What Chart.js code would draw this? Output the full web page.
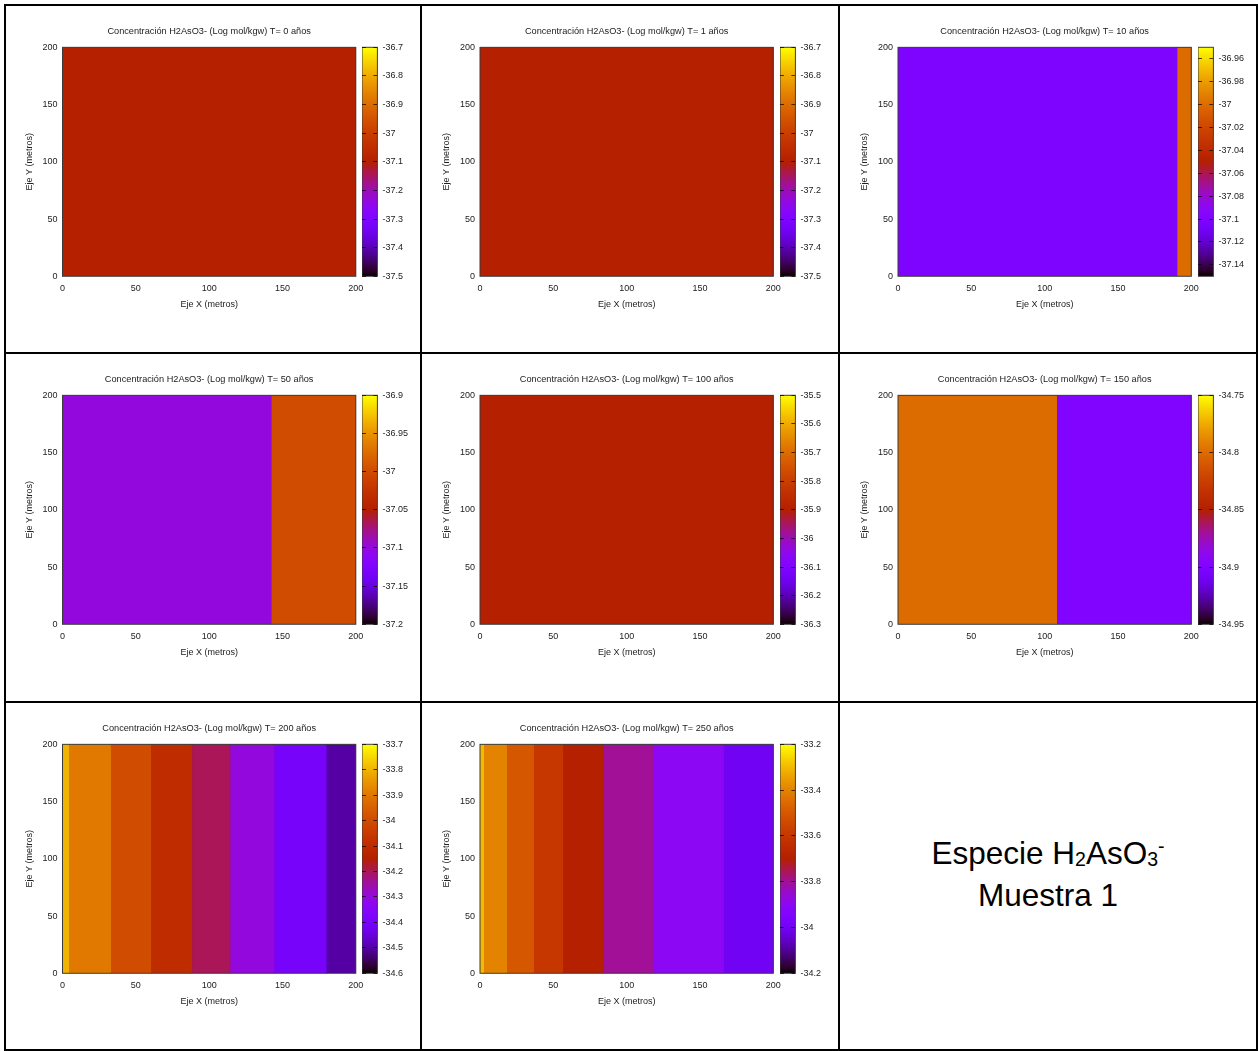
<!DOCTYPE html>
<html>
<head>
<meta charset="utf-8">
<script src="https://cdn.jsdelivr.net/npm/chart.js@4.4.1/dist/chart.umd.min.js"></script>
<style>
  html, body { margin: 0; padding: 0; background: #fff; }
  body { width: 1259px; height: 1051px; position: relative; overflow: hidden; }
  #frame {
    position: absolute; left: 4px; top: 4px; width: 1254px; height: 1047px;
    box-sizing: border-box; padding: 2px; background: #000;
    display: grid; grid-template-columns: 414px 416px 416px;
    grid-template-rows: 346px 347px 346px; gap: 2px;
  }
  .cell { position: relative; background: #fff; overflow: hidden; }
  .cell canvas { position: absolute; top: 0; }
  .txt {
    position: absolute; inset: 0; display: flex; flex-direction: column;
    align-items: center; justify-content: center; padding-bottom: 4px; box-sizing: border-box;
    font-family: 'Liberation Sans', Arial, sans-serif; font-size: 31.5px; color: #000;
  }
  .txt > div { height: 42px; line-height: 42px; white-space: nowrap; }
  .sub { font-size: 19.5px; line-height: 0; position: relative; top: 2px; }
  .sup { font-size: 19.5px; line-height: 0; position: relative; top: -11px; }
</style>
</head>
<body>
<div id="frame"></div>
<script>
// ---------------- DATA ----------------
const panelTimes = [0, 1, 10, 50, 100, 150, 200, 250];
const xTicks = [0, 50, 100, 150, 200];
const yTicks = [0, 50, 100, 150, 200];
const yExtent = [0, 200];

const bandEdgesT0 = [0, 200];
const bandValuesT0 = [-37.1];
const cbRangeT0 = [-37.5, -36.7];
const cbTicksT0 = [-37.5, -37.4, -37.3, -37.2, -37.1, -37.0, -36.9, -36.8, -36.7];

const bandEdgesT1 = [0, 200];
const bandValuesT1 = [-37.1];
const cbRangeT1 = [-37.5, -36.7];
const cbTicksT1 = [-37.5, -37.4, -37.3, -37.2, -37.1, -37.0, -36.9, -36.8, -36.7];

const bandEdgesT10 = [0, 190, 200];
const bandValuesT10 = [-37.1, -37.0];
const cbRangeT10 = [-37.15, -36.95];
const cbTicksT10 = [-37.14, -37.12, -37.10, -37.08, -37.06, -37.04, -37.02, -37.00, -36.98, -36.96];

const bandEdgesT50 = [0, 142, 200];
const bandValuesT50 = [-37.1, -37.0];
const cbRangeT50 = [-37.2, -36.9];
const cbTicksT50 = [-37.2, -37.15, -37.1, -37.05, -37.0, -36.95, -36.9];

const bandEdgesT100 = [0, 200];
const bandValuesT100 = [-35.9];
const cbRangeT100 = [-36.3, -35.5];
const cbTicksT100 = [-36.3, -36.2, -36.1, -36.0, -35.9, -35.8, -35.7, -35.6, -35.5];

const bandEdgesT150 = [0, 108, 200];
const bandValuesT150 = [-34.8, -34.9];
const cbRangeT150 = [-34.95, -34.75];
const cbTicksT150 = [-34.95, -34.9, -34.85, -34.8, -34.75];

const bandEdgesT200 = [0, 4, 32.5, 60, 88, 114, 144, 179.5, 200];
const bandValuesT200 = [-33.8, -33.9, -34.0, -34.1, -34.2, -34.3, -34.4, -34.5];
const cbRangeT200 = [-34.6, -33.7];
const cbTicksT200 = [-34.6, -34.5, -34.4, -34.3, -34.2, -34.1, -34.0, -33.9, -33.8, -33.7];

const bandEdgesT250 = [0, 2.3, 18, 36.4, 56.3, 84, 118, 166, 200];
const bandValuesT250 = [-33.3, -33.4, -33.5, -33.6, -33.7, -33.8, -33.9, -34.0];
const cbRangeT250 = [-34.2, -33.2];
const cbTicksT250 = [-34.2, -34.0, -33.8, -33.6, -33.4, -33.2];

const panels = [
  { t: panelTimes[0], edges: bandEdgesT0, values: bandValuesT0, range: cbRangeT0, ticks: cbTicksT0 },
  { t: panelTimes[1], edges: bandEdgesT1, values: bandValuesT1, range: cbRangeT1, ticks: cbTicksT1 },
  { t: panelTimes[2], edges: bandEdgesT10, values: bandValuesT10, range: cbRangeT10, ticks: cbTicksT10 },
  { t: panelTimes[3], edges: bandEdgesT50, values: bandValuesT50, range: cbRangeT50, ticks: cbTicksT50 },
  { t: panelTimes[4], edges: bandEdgesT100, values: bandValuesT100, range: cbRangeT100, ticks: cbTicksT100 },
  { t: panelTimes[5], edges: bandEdgesT150, values: bandValuesT150, range: cbRangeT150, ticks: cbTicksT150 },
  { t: panelTimes[6], edges: bandEdgesT200, values: bandValuesT200, range: cbRangeT200, ticks: cbTicksT200 },
  { t: panelTimes[7], edges: bandEdgesT250, values: bandValuesT250, range: cbRangeT250, ticks: cbTicksT250 }
];

// ---------------- STYLE / LAYOUT ----------------
const FONT = "'Liberation Sans', Arial, sans-serif";
const TXT = '#222';
Chart.defaults.font.family = FONT;
Chart.defaults.font.size = 9;
Chart.defaults.color = TXT;
Chart.defaults.animation = false;

const colW = [414, 416, 416];
const rowH = [346, 347, 346];
const plotLeftByCol = [56.5, 58, 58];
const PLOT_W = 293.3, PLOT_H = 229, PLOT_TOP = 41.3;
const CB_GAP = 6.6, CB_W = 15.4, CB_AXIS_W = 55;

// gnuplot default palette (rgbformulae 7,5,15)
function palette(t) {
  t = Math.max(0, Math.min(1, t));
  const r = Math.sqrt(t), g = t * t * t, b = Math.max(0, Math.sin(2 * Math.PI * t));
  return `rgb(${Math.round(r * 255)},${Math.round(g * 255)},${Math.round(b * 255)})`;
}
const fmt = v => String(+v.toFixed(4));

const borderPlugin = {
  id: 'frameBorder',
  afterDatasetsDraw(chart) {
    const a = chart.chartArea, c = chart.ctx;
    c.save();
    c.strokeStyle = '#3a3a3a';
    c.lineWidth = 1;
    c.strokeRect(a.left, a.top, a.width, a.height);
    c.restore();
  }
};

const frame = document.getElementById('frame');
for (let i = 0; i < 9; i++) {
  const row = Math.floor(i / 3), col = i % 3;
  const cell = document.createElement('div');
  cell.className = 'cell';
  frame.appendChild(cell);
  if (i === 8) {
    cell.innerHTML = '<div class="txt"><div>Especie H<span class="sub">2</span>AsO<span class="sub">3</span><span class="sup">-</span></div><div>Muestra 1</div></div>';
    continue;
  }
  const p = panels[i];
  const W = colW[col], H = rowH[row];
  const plotLeft = plotLeftByCol[col];
  const plotRight = plotLeft + PLOT_W;
  const yAxisW = 38.4, xAxisH = 34.1;

  // main heatmap chart
  const cv = document.createElement('canvas');
  cv.width = W; cv.height = H;
  cv.style.width = W + 'px'; cv.style.height = H + 'px'; cv.style.left = '0px';
  cell.appendChild(cv);

  const [vmin, vmax] = p.range;
  const datasets = p.values.map((v, k) => {
    const c = palette((v - vmin) / (vmax - vmin));
    return {
      data: [
        { x: p.edges[k], y: yExtent[0] }, { x: p.edges[k], y: yExtent[1] },
        { x: p.edges[k + 1], y: yExtent[1] }, { x: p.edges[k + 1], y: yExtent[0] }
      ],
      showLine: true, fill: 'origin', backgroundColor: c,
      borderColor: c, borderWidth: 1, pointRadius: 0, tension: 0
    };
  });

  new Chart(cv, {
    type: 'scatter',
    data: { datasets },
    plugins: [borderPlugin],
    options: {
      responsive: false,
      layout: { padding: { left: plotLeft - yAxisW, right: W - plotRight, top: 0, bottom: H - PLOT_TOP - PLOT_H - xAxisH } },
      plugins: {
        legend: { display: false },
        tooltip: { enabled: false },
        title: {
          display: true, fullSize: false,
          text: 'Concentración H2AsO3- (Log mol/kgw) T= ' + p.t + ' años',
          font: { size: 9.2, weight: 'normal' }, color: TXT,
          padding: { top: 20.4, bottom: 9.9 }
        }
      },
      scales: {
        x: {
          type: 'linear', min: 0, max: 200,
          afterBuildTicks: s => { s.ticks = xTicks.map(v => ({ value: v })); },
          afterFit: s => { s.height = xAxisH; },
          grid: { display: false, drawTicks: false },
          border: { display: false },
          ticks: { padding: 6.5, maxRotation: 0, color: TXT, font: { size: 9 } },
          title: { display: true, text: 'Eje X (metros)', padding: 0, color: TXT, font: { size: 9 } }
        },
        y: {
          type: 'linear', min: 0, max: 200,
          afterBuildTicks: s => { s.ticks = yTicks.map(v => ({ value: v })); },
          afterFit: s => { s.width = yAxisW; },
          grid: { display: false, drawTicks: false },
          border: { display: false },
          ticks: { padding: 5, color: TXT, font: { size: 9 } },
          title: { display: true, text: 'Eje Y (metros)', padding: 0, color: TXT, font: { size: 9 } }
        }
      }
    }
  });

  // colorbar chart
  const cb = document.createElement('canvas');
  const cbW = CB_W + CB_AXIS_W;
  cb.width = Math.ceil(cbW); cb.height = H;
  cb.style.width = Math.ceil(cbW) + 'px'; cb.style.height = H + 'px';
  cb.style.left = (plotRight + CB_GAP) + 'px';
  cell.appendChild(cb);

  new Chart(cb, {
    type: 'scatter',
    data: {
      datasets: [{
        data: [{ x: 0, y: vmax }, { x: 1, y: vmax }],
        showLine: true, fill: 'start', borderWidth: 0, pointRadius: 0,
        backgroundColor: ctx => {
          const a = ctx.chart.chartArea;
          if (!a) return 'rgba(0,0,0,0)';
          const g = ctx.chart.ctx.createLinearGradient(0, a.bottom, 0, a.top);
          for (let s = 0; s <= 64; s++) g.addColorStop(s / 64, palette(s / 64));
          return g;
        }
      }]
    },
    plugins: [borderPlugin],
    options: {
      responsive: false,
      layout: { padding: { left: 0, right: Math.ceil(cbW) - cbW, top: PLOT_TOP, bottom: H - PLOT_TOP - PLOT_H } },
      plugins: { legend: { display: false }, tooltip: { enabled: false }, title: { display: false } },
      scales: {
        x: { type: 'linear', min: 0, max: 1, display: false },
        y: {
          type: 'linear', position: 'right', min: vmin, max: vmax,
          afterBuildTicks: s => { s.ticks = p.ticks.map(v => ({ value: v })); },
          afterFit: s => { s.width = CB_AXIS_W; },
          grid: { display: true, drawTicks: false, z: 1, color: 'rgba(0,0,0,0.7)', lineWidth: 1 },
          border: { display: false, dash: [4, 7.4] },
          ticks: { padding: 5, color: TXT, font: { size: 9 }, callback: v => fmt(v) }
        }
      }
    }
  });
}
</script>
</body>
</html>
